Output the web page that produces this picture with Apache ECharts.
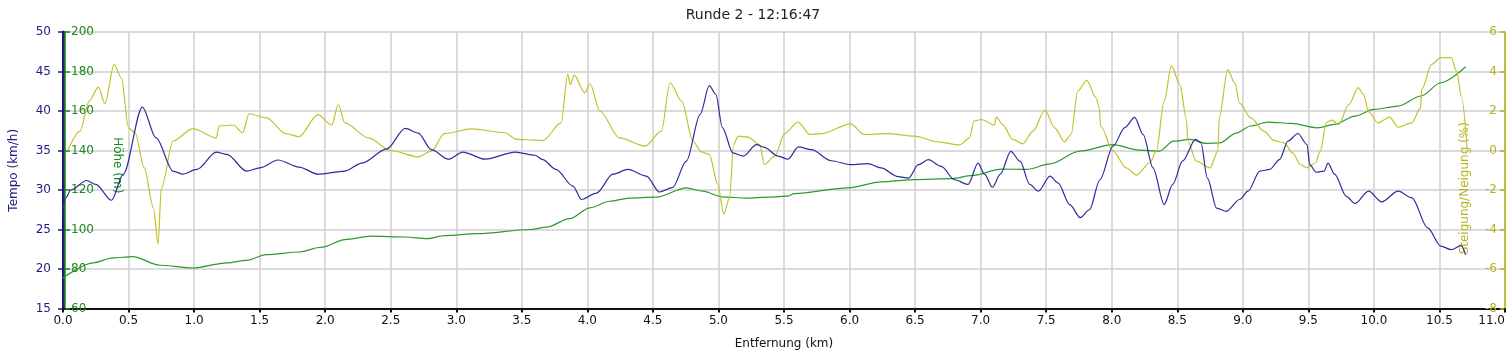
<!DOCTYPE html>
<html>
<head>
<meta charset="utf-8">
<script src="https://cdn.jsdelivr.net/npm/echarts@6/dist/echarts.min.js"></script>
<style>
html,body{margin:0;padding:0;background:#fff;}
#c{width:1506px;height:363px;}
</style>
</head>
<body>
<div id="c"></div>
<script>
var titleText = 'Runde 2 - 12:16:47';
var xName = 'Entfernung (km)';
var tempoName = 'Tempo (km/h)';
var hoeheName = 'Höhe (m)';
var steigName = 'Steigung/Neigung (%)';

var tempoKm = [0, 0.02, 0.06, 0.18, 0.25, 0.37, 0.46, 0.605, 0.71, 0.84, 0.915, 1.02, 1.17, 1.25, 1.40, 1.50, 1.64, 1.80, 1.945, 2.15, 2.28, 2.47, 2.61, 2.71, 2.81, 2.94, 3.05, 3.22, 3.45, 3.60, 3.66, 3.76, 3.89, 3.955, 4.07, 4.195, 4.31, 4.45, 4.55, 4.65, 4.755, 4.86, 4.93, 4.98, 5.03, 5.11, 5.19, 5.29, 5.35, 5.455, 5.53, 5.61, 5.71, 5.86, 6.01, 6.14, 6.24, 6.37, 6.45, 6.525, 6.60, 6.70, 6.80, 6.905, 6.98, 7.03, 7.09, 7.15, 7.23, 7.30, 7.375, 7.44, 7.53, 7.59, 7.68, 7.76, 7.83, 7.91, 8.01, 8.10, 8.175, 8.24, 8.315, 8.40, 8.465, 8.54, 8.64, 8.68, 8.73, 8.80, 8.875, 8.975, 9.04, 9.13, 9.205, 9.28, 9.345, 9.42, 9.49, 9.51, 9.56, 9.62, 9.65, 9.70, 9.79, 9.855, 9.96, 10.06, 10.185, 10.29, 10.41, 10.51, 10.59, 10.665, 10.70];
var tempoVal = [27.6, 29.0, 30.0, 31.2, 30.7, 28.7, 32.0, 40.5, 36.6, 32.4, 32.0, 32.6, 34.8, 34.5, 32.4, 32.8, 33.8, 32.9, 32.0, 32.4, 33.4, 35.2, 37.8, 37.2, 35.1, 33.9, 34.8, 33.9, 34.8, 34.4, 33.85, 32.6, 30.5, 28.8, 29.6, 32.0, 32.6, 31.75, 29.75, 30.3, 33.65, 39.55, 43.2, 42.1, 37.9, 34.7, 34.3, 35.75, 35.4, 34.3, 33.9, 35.45, 35.1, 33.7, 33.2, 33.35, 32.8, 31.7, 31.5, 33.2, 33.85, 33.0, 31.3, 30.7, 33.4, 32.0, 30.35, 32.0, 34.9, 33.65, 30.7, 29.85, 31.75, 30.9, 28.15, 26.5, 27.5, 31.3, 35.55, 37.9, 39.2, 37.0, 32.8, 28.15, 30.7, 33.65, 36.4, 36.0, 31.5, 27.7, 27.3, 28.8, 29.85, 32.4, 32.6, 33.85, 36.2, 37.15, 35.75, 33.2, 32.25, 32.4, 33.4, 32.0, 29.2, 28.3, 29.85, 28.5, 29.85, 29.0, 25.2, 22.9, 22.45, 22.95, 21.8];

var hoeheKm = [0, 0.23, 0.38, 0.53, 0.74, 0.99, 1.25, 1.40, 1.55, 1.80, 1.97, 2.15, 2.35, 2.61, 2.78, 2.91, 3.165, 3.56, 3.69, 3.865, 4.02, 4.17, 4.32, 4.525, 4.755, 4.88, 5.03, 5.21, 5.39, 5.53, 5.58, 5.99, 6.24, 6.495, 6.78, 6.93, 7.16, 7.35, 7.53, 7.755, 8.01, 8.21, 8.365, 8.47, 8.595, 8.72, 8.825, 8.95, 9.06, 9.19, 9.37, 9.57, 9.70, 9.855, 10.0, 10.185, 10.36, 10.51, 10.70];
var hoeheVal = [75.5, 83.1, 85.6, 86.3, 81.9, 80.5, 83.1, 84.4, 87.3, 88.6, 91.0, 94.9, 96.6, 96.2, 95.4, 96.9, 97.9, 100.0, 101.2, 105.5, 111.0, 114.3, 115.9, 116.4, 121.1, 119.4, 116.5, 115.9, 116.4, 116.9, 118.2, 121.1, 124.1, 125.3, 125.8, 127.3, 130.6, 130.4, 133.2, 139.7, 143.0, 140.2, 139.7, 144.7, 145.6, 143.6, 143.9, 148.8, 152.4, 154.4, 153.7, 151.5, 153.2, 157.4, 160.8, 162.5, 167.6, 174.3, 182.4];

var steigKm = [0.04, 0.13, 0.20, 0.27, 0.32, 0.39, 0.445, 0.50, 0.55, 0.62, 0.69, 0.725, 0.75, 0.84, 0.99, 1.17, 1.19, 1.30, 1.37, 1.42, 1.55, 1.70, 1.80, 1.945, 2.05, 2.10, 2.15, 2.33, 2.50, 2.71, 2.81, 2.91, 3.115, 3.37, 3.46, 3.60, 3.66, 3.80, 3.85, 3.87, 3.90, 3.98, 4.02, 4.095, 4.245, 4.44, 4.565, 4.63, 4.72, 4.805, 4.87, 4.93, 4.995, 5.04, 5.085, 5.115, 5.15, 5.225, 5.315, 5.35, 5.43, 5.505, 5.605, 5.70, 5.785, 6.01, 6.11, 6.29, 6.495, 6.675, 6.84, 6.915, 6.95, 7.005, 7.105, 7.12, 7.17, 7.245, 7.32, 7.40, 7.49, 7.565, 7.64, 7.69, 7.74, 7.81, 7.88, 7.905, 7.915, 8.01, 8.11, 8.19, 8.29, 8.34, 8.40, 8.455, 8.52, 8.57, 8.58, 8.645, 8.75, 8.81, 8.82, 8.885, 8.94, 8.975, 9.06, 9.16, 9.24, 9.315, 9.38, 9.44, 9.49, 9.555, 9.59, 9.64, 9.68, 9.73, 9.81, 9.88, 9.92, 9.96, 10.03, 10.12, 10.185, 10.29, 10.355, 10.365, 10.44, 10.51, 10.59, 10.63, 10.67, 10.71];
var steigVal = [0.05, 0.98, 2.5, 3.21, 2.37, 4.36, 3.68, 1.15, 0.9, -0.88, -2.9, -4.73, -1.9, 0.48, 1.11, 0.64, 1.24, 1.29, 0.9, 1.86, 1.66, 0.85, 0.70, 1.82, 1.29, 2.33, 1.40, 0.64, 0.0, -0.32, -0.03, 0.85, 1.1, 0.9, 0.56, 0.53, 0.5, 1.40, 3.85, 3.34, 3.82, 2.92, 3.38, 2.0, 0.64, 0.22, 0.98, 3.43, 2.5, 0.48, -0.07, -0.2, -1.72, -3.21, -2.40, 0.30, 0.73, 0.68, 0.30, -0.71, -0.28, 0.85, 1.44, 0.81, 0.85, 1.35, 0.81, 0.85, 0.73, 0.44, 0.28, 0.64, 1.49, 1.57, 1.29, 1.69, 1.3, 0.56, 0.34, 0.98, 2.05, 1.15, 0.44, 0.81, 3.0, 3.55, 2.67, 2.16, 1.24, -0.03, -0.88, -1.25, -0.62, -0.03, 2.5, 4.28, 3.34, 1.57, 0.48, -0.54, -0.88, -0.03, 1.66, 4.1, 3.4, 2.4, 1.66, 0.98, 0.5, 0.39, -0.12, -0.71, -0.88, -0.62, -0.03, 1.44, 1.54, 1.32, 2.33, 3.18, 2.84, 1.96, 1.40, 1.69, 1.18, 1.40, 2.16, 3.09, 4.36, 4.70, 4.70, 4.02, 2.67, 0.14];

function zip(a, b) { return a.map(function (v, i) { return [v, b[i]]; }); }

var FONT = 'DejaVu Sans';
var navy = '#1c1c80';
var blueLine = '#2c2c9c';
var green = '#1a8a1a';
var greenLine = '#2b9a2b';
var olive = '#b4b41e';
var oliveLine = '#c2c22e';
var gridCol = '#cfcfcf';

var chart = echarts.init(document.getElementById('c'), null, {renderer: 'canvas'});
chart.setOption({
  animation: false,
  backgroundColor: '#ffffff',
  title: {
    text: titleText, left: 'center', top: 3,
    textStyle: {fontFamily: FONT, fontSize: 14, fontWeight: 'normal', color: '#222'}
  },
  grid: {left: 63, right: 1, top: 32, bottom: 54.5, containLabel: false, outerBoundsMode: 'none'},
  xAxis: {
    type: 'value', min: 0, max: 11, interval: 0.5,
    name: xName, nameLocation: 'middle', nameGap: 29,
    nameTextStyle: {fontFamily: FONT, fontSize: 12, color: '#111'},
    axisLine: {onZero: false, lineStyle: {color: '#111', width: 2}},
    axisTick: {show: true, length: 4, lineStyle: {color: '#111', width: 2}},
    axisLabel: {fontFamily: FONT, fontSize: 12, color: '#111', margin: 6, alignMaxLabel: 'right',
      formatter: function (v) { return v.toFixed(1); }},
    splitLine: {show: true, lineStyle: {color: gridCol, width: 1.5}}
  },
  yAxis: [
    {
      type: 'value', min: 15, max: 50, interval: 5, position: 'left',
      name: tempoName, nameLocation: 'middle', nameGap: 43, nameRotate: 90,
      nameTextStyle: {fontFamily: FONT, fontSize: 12, color: navy},
      axisLine: {show: true, onZero: false, lineStyle: {color: navy, width: 3}},
      axisTick: {show: true, length: 5, lineStyle: {color: navy, width: 1.5}},
      axisLabel: {fontFamily: FONT, fontSize: 12, color: navy, margin: 12},
      splitLine: {show: true, lineStyle: {color: gridCol, width: 1.5}}
    },
    {
      type: 'value', min: 60, max: 200, interval: 20, position: 'left', offset: -2,
      name: hoeheName, nameLocation: 'middle', nameGap: -58, nameRotate: -90,
      nameTextStyle: {fontFamily: FONT, fontSize: 12, color: green, padding: [0, 10, 0, 0]},
      axisLine: {show: true, onZero: false, lineStyle: {color: green, width: 1.5}},
      axisTick: {show: true, inside: true, length: 5, lineStyle: {color: green, width: 1.5}},
      axisLabel: {inside: true, fontFamily: FONT, fontSize: 12, color: green, margin: 6},
      splitLine: {show: false}
    },
    {
      type: 'value', min: -8, max: 6, interval: 2, position: 'right',
      name: steigName, nameLocation: 'middle', nameGap: -46, nameRotate: 90,
      nameTextStyle: {fontFamily: FONT, fontSize: 12, color: olive, padding: [0, 36, 0, 0]},
      axisLine: {show: true, onZero: false, lineStyle: {color: olive, width: 1.5}},
      axisTick: {show: true, inside: true, length: 5, lineStyle: {color: olive, width: 1.5}},
      axisLabel: {inside: true, fontFamily: FONT, fontSize: 12, color: olive, margin: 8},
      splitLine: {show: false}
    }
  ],
  series: [
    {
      type: 'line', name: hoeheName, yAxisIndex: 1, data: zip(hoeheKm, hoeheVal),
      showSymbol: false, smooth: 0.3, smoothMonotone: 'x',
      lineStyle: {color: greenLine, width: 1.2}, z: 3
    },
    {
      type: 'line', name: steigName, yAxisIndex: 2, data: zip(steigKm, steigVal),
      showSymbol: false, smooth: 0.3, smoothMonotone: 'x',
      lineStyle: {color: oliveLine, width: 1.2}, z: 4
    },
    {
      type: 'line', name: tempoName, yAxisIndex: 0, data: zip(tempoKm, tempoVal),
      showSymbol: false, smooth: 0.3, smoothMonotone: 'x',
      lineStyle: {color: blueLine, width: 1.2}, z: 5
    }
  ]
});
</script>
</body>
</html>
